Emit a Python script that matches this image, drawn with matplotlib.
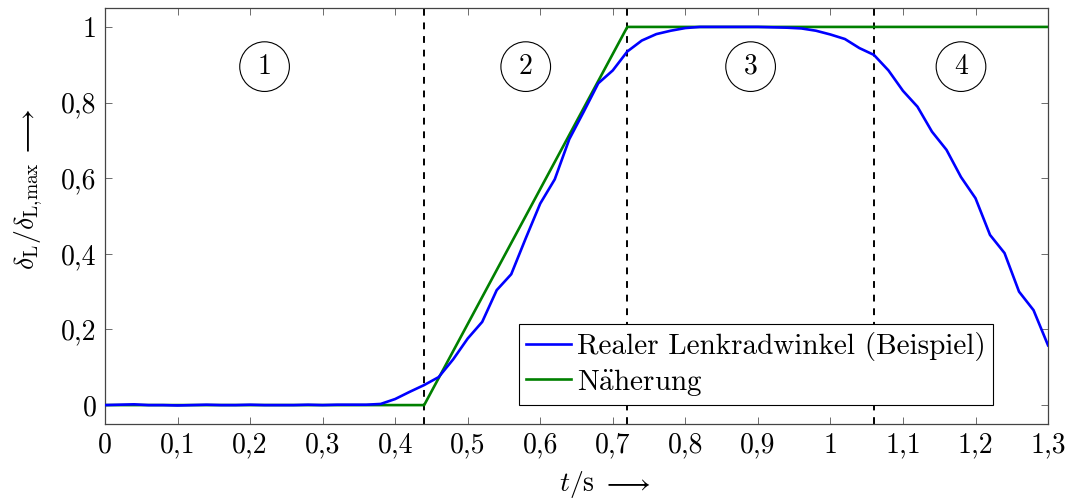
import matplotlib
matplotlib.use("Agg")
import matplotlib.pyplot as plt
from matplotlib.transforms import offset_copy
import numpy as np

plt.rcParams['font.family'] = 'serif'
plt.rcParams['font.serif'] = ['cmr10']
plt.rcParams['mathtext.fontset'] = 'cm'
plt.rcParams['axes.unicode_minus'] = False

# real steering angle (sampled every 0.02 s)
t_real = np.round(np.arange(0, 1.3001, 0.02), 2)
delta_real = [0.000, 0.001, 0.002, 0.000, 0.000, -0.001, 0.000, 0.001, 0.000, 0.000,
              0.001, 0.000, 0.000, 0.000, 0.001, 0.000, 0.001, 0.001, 0.001, 0.003,
              0.016, 0.035, 0.053, 0.074, 0.121, 0.176, 0.220, 0.304, 0.346, 0.441,
              0.533, 0.597, 0.703, 0.776, 0.851, 0.885, 0.935, 0.964, 0.981, 0.990,
              0.997, 1.000, 1.000, 1.000, 1.000, 1.000, 0.999, 0.998, 0.996, 0.990,
              0.980, 0.968, 0.944, 0.926, 0.885, 0.831, 0.789, 0.723, 0.675, 0.603,
              0.547, 0.450, 0.402, 0.300, 0.251, 0.158]

# piecewise linear approximation
t_approx = [0, 0.44, 0.72, 1.3]
delta_approx = [0, 0, 1, 1]

phase_bounds = [0.44, 0.72, 1.06]
phase_labels = ['1', '2', '3', '4']
phase_x = [0.22, 0.58, 0.89, 1.18]

xticks = [0, 0.1, 0.2, 0.3, 0.4, 0.5, 0.6, 0.7, 0.8, 0.9, 1.0, 1.1, 1.2, 1.3]
xticklabels = ['0', '0,1', '0,2', '0,3', '0,4', '0,5', '0,6', '0,7', '0,8', '0,9',
               '1', '1,1', '1,2', '1,3']
yticks = [0, 0.2, 0.4, 0.6, 0.8, 1.0]
yticklabels = ['0', '0,2', '0,4', '0,6', '0,8', '1']

fig = plt.figure(figsize=(10.69, 5.01), dpi=100)
ax = fig.add_axes([0.0982, 0.1537, 0.8822, 0.8303])

for xb in phase_bounds:
    ax.axvline(xb, color='black', linestyle=(0, (3.5, 3.5)), linewidth=1.4, zorder=1)

ax.plot(t_real, delta_real, color='#0000ff', linewidth=1.9,
        label='Realer Lenkradwinkel (Beispiel)', zorder=3)
ax.plot(t_approx, delta_approx, color='#008000', linewidth=1.9,
        label=r'N$\ddot{\mathrm{a}}$herung', zorder=2)

for xp, lab in zip(phase_x, phase_labels):
    ax.text(xp, 0.895, lab, fontsize=20, ha='center', va='center',
            bbox=dict(boxstyle='circle,pad=0.42', facecolor='white',
                      edgecolor='black', linewidth=0.8), zorder=4)

ax.set_xlim(0, 1.3)
ax.set_ylim(-0.05, 1.05)
ax.set_xticks(xticks)
ax.set_xticklabels(xticklabels)
ax.set_yticks(yticks)
ax.set_yticklabels(yticklabels)
ax.tick_params(direction='in', length=5, width=0.6, color='#555555',
               top=True, right=True, labelsize=20, pad=6)
for sp in ax.spines.values():
    sp.set_linewidth(0.9)
    sp.set_color('#444444')

# axis labels: quantity centred on the axis, arrow hanging after it
ax.text(0.5, -0.160, r'$t/\mathrm{s}$', transform=ax.transAxes,
        fontsize=20, ha='center', va='baseline')
ax.text(0.5, -0.160, r'$\longrightarrow$',
        transform=offset_copy(ax.transAxes, fig, x=18, y=0, units='points'),
        fontsize=20, ha='left', va='baseline')

ax.text(-0.0745, 0.5, r'$\delta_\mathrm{L}/\delta_\mathrm{L{,}max}$',
        transform=ax.transAxes, fontsize=20, rotation=90,
        rotation_mode='anchor', ha='center', va='baseline')
ax.text(-0.0745, 0.5, r'$\longrightarrow$',
        transform=offset_copy(ax.transAxes, fig, x=0, y=42.5, units='points'),
        fontsize=20, rotation=90, rotation_mode='anchor',
        ha='left', va='baseline')

leg = ax.legend(loc='lower right', fontsize=21, frameon=True, fancybox=False,
                edgecolor='black', framealpha=1, borderpad=0.25,
                handlelength=1.55, handletextpad=0.2, labelspacing=0.2,
                borderaxespad=0, bbox_to_anchor=(0.942, 0.046))
leg.get_frame().set_linewidth(0.8)

fig.savefig('out.png', dpi=100)
